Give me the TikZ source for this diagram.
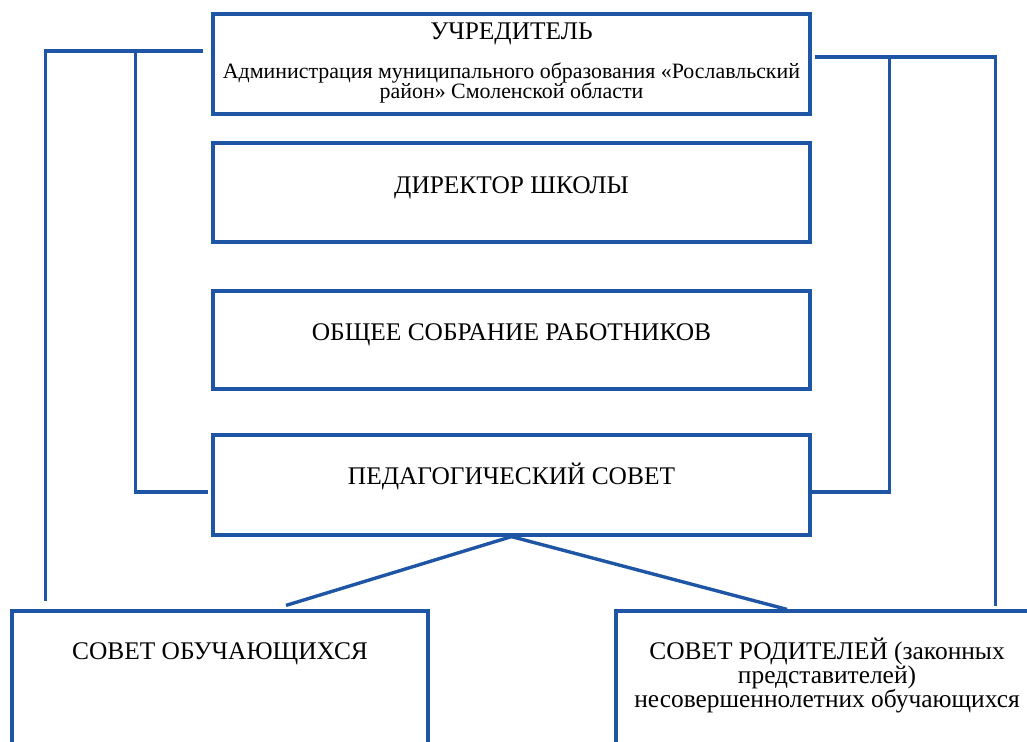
\documentclass[tikz,border=0pt]{standalone}
\usepackage{fontspec}
\setmainfont{Liberation Serif}
\usetikzlibrary{positioning}
\definecolor{orgblue}{RGB}{30,85,165}
\tikzset{
  box/.style={draw=orgblue, line width=3.2pt, rectangle, inner sep=0pt},
  link/.style={draw=orgblue, line width=3.4pt},
  lbl/.style={font=\fontsize{25.4}{28}\selectfont, inner sep=0pt, anchor=base},
  sublbl/.style={font=\fontsize{21.9}{24}\selectfont, inner sep=0pt, anchor=base},
}

\begin{document}
\begin{tikzpicture}[x=1pt, y=-1pt]
\clip (0,0) rectangle (1027,741);
% boxes
\node[box, minimum width=597pt, minimum height=100pt] (founder) at (511.5,64) {};
\node[box, minimum width=597pt, minimum height=99pt] (director) at (511.5,192.5) {};
\node[box, minimum width=597pt, minimum height=98pt] (assembly) at (511.5,340) {};
\node[box, minimum width=597pt, minimum height=100pt] (pedcouncil) at (511.5,485) {};
\node[box, minimum width=416pt, minimum height=200pt] (students) at (220,711) {};
\node[box, minimum width=464pt, minimum height=200pt] (parents) at (848,711) {};
% texts
\node[lbl] (founder-t1) at ([yshift=-27pt]founder.north) {УЧРЕДИТЕЛЬ};
\node[sublbl] (founder-t2) at ([yshift=-66pt]founder.north) {Администрация муниципального образования «Рославльский};
\node[sublbl] (founder-t3) at ([yshift=-86pt]founder.north) {район» Смоленской области};
\node[lbl] (director-t) at ([yshift=-52pt]director.north) {ДИРЕКТОР ШКОЛЫ};
\node[lbl] (assembly-t) at ([yshift=-51pt]assembly.north) {ОБЩЕЕ СОБРАНИЕ РАБОТНИКОВ};
\node[lbl] (pedcouncil-t) at ([yshift=-51pt]pedcouncil.north) {ПЕДАГОГИЧЕСКИЙ СОВЕТ};
\node[lbl] (students-t) at ([yshift=-50pt]students.north) {СОВЕТ ОБУЧАЮЩИХСЯ};
\node[lbl] (parents-t1) at ([xshift=-21pt,yshift=-50pt]parents.north) {СОВЕТ РОДИТЕЛЕЙ (законных};
\node[lbl] (parents-t2) at ([xshift=-21pt,yshift=-74pt]parents.north) {представителей)};
\node[lbl] (parents-t3) at ([xshift=-21pt,yshift=-98pt]parents.north) {несовершеннолетних обучающихся};
% connectors
\draw[link] ([xshift=-8pt,yshift=13pt]founder.west) -| ([xshift=35pt,yshift=8pt]students.north west);
\draw[link] ([xshift=-76pt,yshift=13pt]founder.west) |- ([xshift=-3pt,yshift=-7pt]pedcouncil.west);
\draw[link] ([xshift=3pt,yshift=7pt]founder.east) -| ([xshift=381pt,yshift=3pt]parents.north west);
\draw[link] ([xshift=78pt,yshift=7pt]founder.east) |- ([yshift=-7pt]pedcouncil.east);
\draw[link] (pedcouncil.south) -- ([xshift=66pt,yshift=4pt]students.north);
\draw[link] (pedcouncil.south) -- ([xshift=-61pt]parents.north);
\end{tikzpicture}
\end{document}
